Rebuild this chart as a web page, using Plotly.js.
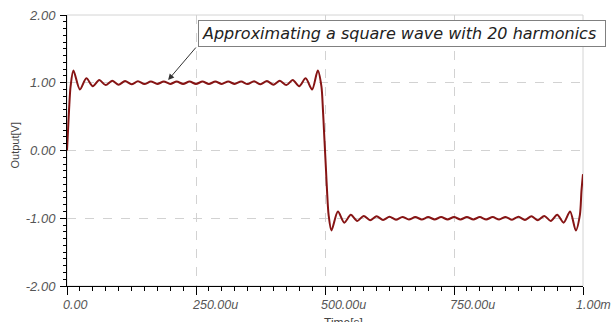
<!DOCTYPE html>
<html>
<head>
<meta charset="utf-8">
<script src="https://cdn.plot.ly/plotly-3.0.1.min.js"></script>
<style>html,body{margin:0;padding:0;background:#fff;}#chart{width:612px;height:322px;}</style>
</head>
<body>
<div id="chart"></div>
<script>
// Time in microseconds
var timeUs = [
  0, 2, 4, 7,
  12.5, 25, 37.5, 50, 62.5, 75, 87.5, 100, 112.5, 125,
  137.5, 150, 162.5, 175, 187.5, 200, 212.5, 225, 237.5, 250,
  262.5, 275, 287.5, 300, 312.5, 325, 337.5, 350, 362.5, 375,
  387.5, 400, 412.5, 425, 437.5, 450, 462.5, 475, 486,
  493, 496, 498, 500, 502, 504, 507,
  512.5, 525, 537.5, 550, 562.5, 575, 587.5, 600, 612.5, 625,
  637.5, 650, 662.5, 675, 687.5, 700, 712.5, 725, 737.5, 750,
  762.5, 775, 787.5, 800, 812.5, 825, 837.5, 850, 862.5, 875,
  887.5, 900, 912.5, 925, 937.5, 950, 962.5, 975, 986,
  994, 997, 1000
];
// Output voltage in volts
var outputV = [
  0, 0.3, 0.6, 0.95,
  1.18, 0.90, 1.065, 0.95, 1.04, 0.965, 1.03, 0.972, 1.025, 0.978,
  1.021, 0.98, 1.019, 0.982, 1.018, 0.983, 1.017, 0.983, 1.017, 0.983,
  1.017, 0.983, 1.017, 0.983, 1.018, 0.982, 1.019, 0.98, 1.021, 0.978,
  1.025, 0.972, 1.03, 0.965, 1.04, 0.95, 1.065, 0.90, 1.18,
  0.95, 0.6, 0.3, 0, -0.3, -0.6, -0.95,
  -1.18, -0.90, -1.065, -0.95, -1.04, -0.965, -1.03, -0.972, -1.025, -0.978,
  -1.021, -0.98, -1.019, -0.982, -1.018, -0.983, -1.017, -0.983, -1.017, -0.983,
  -1.017, -0.983, -1.017, -0.983, -1.018, -0.982, -1.019, -0.98, -1.021, -0.978,
  -1.025, -0.972, -1.03, -0.965, -1.04, -0.95, -1.065, -0.90, -1.18,
  -0.95, -0.6, -0.35
];
var xTickVals = [0, 250, 500, 750, 1000];
var xTickText = ['0.00', '250.00u', '500.00u', '750.00u', '1.00m'];
var yTickVals = [-2, -1, 0, 1, 2];
var yTickText = ['-2.00', '-1.00', '0.00', '1.00', '2.00'];
var noteText = 'Approximating a square wave with 20 harmonics';
var xTitle = 'Time[s]';
var yTitle = 'Output[V]';

var trace = {
  x: timeUs, y: outputV, type: 'scatter', mode: 'lines',
  line: {color: '#861414', width: 2, shape: 'spline', smoothing: 0.8},
  hoverinfo: 'skip'
};

var baseFamily = 'Liberation Sans, Arial, sans-serif';
var tickFont = {family: baseFamily, size: 13, color: '#555', style: 'italic'};
var xTickFont = {family: baseFamily, size: 12.5, color: '#555', style: 'italic'};

var annotations = [
  {
    xref: 'paper', yref: 'paper', x: 0.649, y: 0.930,
    xanchor: 'center', yanchor: 'middle',
    text: noteText, showarrow: false,
    font: {family: 'DejaVu Sans, sans-serif', size: 16, color: '#222', style: 'italic'},
    bgcolor: '#fff', bordercolor: '#808080', borderwidth: 1, borderpad: 3,
    width: 400, align: 'left'
  },
  {
    xref: 'x', yref: 'y', x: 196, y: 1.04,
    text: '', showarrow: true, axref: 'pixel', ayref: 'pixel', ax: 29, ay: -34,
    arrowhead: 2, arrowsize: 1.2, arrowwidth: 1, arrowcolor: '#333'
  },
  {
    xref: 'paper', yref: 'paper', x: -0.1, y: 0.52,
    xanchor: 'center', yanchor: 'middle', textangle: -90,
    text: yTitle, showarrow: false,
    font: {family: baseFamily, size: 11, color: '#444'}
  },
  {
    xref: 'paper', yref: 'paper', x: 0.494, y: -0.104,
    xanchor: 'left', yanchor: 'top',
    text: xTitle, showarrow: false,
    font: {family: baseFamily, size: 12, color: '#444'}
  }
];
// x tick labels, left-aligned just before each tick
for (var i = 0; i < xTickVals.length; i++) {
  annotations.push({
    xref: 'x', yref: 'paper', x: xTickVals[i], y: -0.037,
    xanchor: 'left', yanchor: 'top', xshift: (i === xTickVals.length - 1) ? -9 : -6,
    text: xTickText[i], showarrow: false, font: xTickFont
  });
}

var layout = {
  width: 612, height: 322,
  margin: {l: 67, r: 29, t: 15, b: 36, pad: 0},
  paper_bgcolor: '#fff', plot_bgcolor: '#fff',
  showlegend: false,
  font: {family: baseFamily, color: '#444'},
  xaxis: {
    range: [0, 1000], tickvals: xTickVals, ticktext: xTickText, showticklabels: false,
    ticks: 'outside', ticklen: 8, tickcolor: '#000', tickwidth: 1,
    showline: true, linecolor: '#000', linewidth: 1,
    showgrid: true, gridcolor: '#d2d2d2', griddash: 'dash', gridwidth: 1,
    zeroline: false,
    minor: {dtick: 25, tick0: 0, ticks: 'outside', ticklen: 4, tickcolor: '#000', showgrid: false},
    fixedrange: true
  },
  yaxis: {
    range: [-2, 2], tickvals: yTickVals, ticktext: yTickText,
    ticks: 'outside', ticklen: 6, tickcolor: '#000', tickwidth: 1,
    showline: true, linecolor: '#000', linewidth: 1,
    showgrid: true, gridcolor: '#d2d2d2', griddash: 'dash', gridwidth: 1,
    zeroline: false, tickfont: tickFont, ticklabelstandoff: 2,
    minor: {dtick: 0.1, tick0: 0, ticks: 'outside', ticklen: 3, tickcolor: '#000', showgrid: false},
    fixedrange: true
  },
  shapes: [{
    type: 'rect', xref: 'paper', yref: 'paper', x0: 0, x1: 1, y0: 0, y1: 1,
    line: {color: '#d4d4d4', width: 1}, layer: 'below'
  }],
  annotations: annotations
};

Plotly.newPlot('chart', [trace], layout, {displayModeBar: false, staticPlot: true});
</script>
</body>
</html>
